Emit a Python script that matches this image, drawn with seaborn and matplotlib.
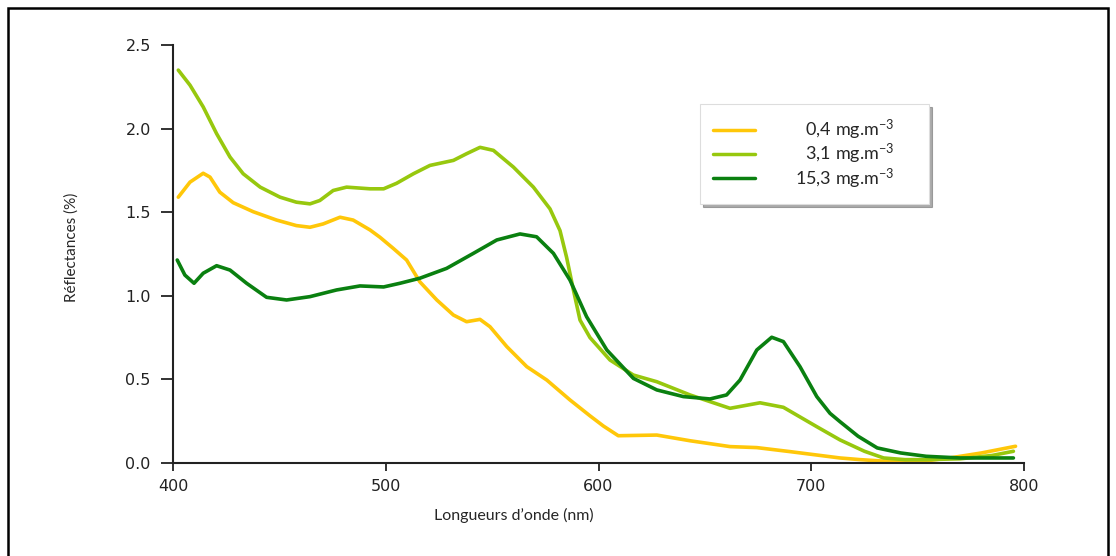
import matplotlib
matplotlib.use('Agg')
import matplotlib.pyplot as plt
import seaborn as sns
import pandas as pd
from matplotlib.patches import Rectangle

# wavelengths (nm) and reflectances (%)
wl_low = [402.5, 408, 414.2, 417.4, 422, 428.3, 437.7, 448.7, 458, 464.4, 470.6, 478.5, 484.7,
          492.6, 497.3, 503.5, 509.8, 516, 524, 531.8, 538, 544.3, 549, 556.9, 566.3, 575.7,
          586.6, 596, 602.3, 609.3, 627.4, 643, 661.8, 674.4, 690, 713.5, 723, 738, 752, 765,
          780, 796]
refl_low = [1.59, 1.68, 1.733, 1.71, 1.62, 1.557, 1.503, 1.453, 1.42, 1.41, 1.43, 1.47, 1.453,
            1.394, 1.35, 1.284, 1.214, 1.084, 0.975, 0.885, 0.845, 0.859, 0.815, 0.696, 0.576,
            0.496, 0.377, 0.282, 0.221, 0.163, 0.167, 0.133, 0.098, 0.092, 0.068, 0.03, 0.02,
            0.008, 0.01, 0.03, 0.06, 0.10]

wl_mid = [402.5, 408, 414.2, 420.5, 426.8, 433, 441, 450.3, 458, 464.4, 469, 475.3, 481.6,
          492.6, 499, 505.1, 513, 520.8, 531.8, 538, 544.3, 550.6, 560, 569.4, 577.2, 581.9, 585,
          588.2, 591.3, 596, 605.4, 616.4, 627.4, 643, 661.8, 675.9, 686.9, 702.6, 713.5, 725,
          734, 744, 754, 770, 785, 795]
refl_mid = [2.35, 2.26, 2.13, 1.97, 1.83, 1.73, 1.65, 1.59, 1.56, 1.55, 1.57, 1.63, 1.65, 1.64,
            1.64, 1.673, 1.73, 1.78, 1.81, 1.85, 1.888, 1.87, 1.77, 1.65, 1.52, 1.39, 1.23,
            1.035, 0.855, 0.75, 0.616, 0.526, 0.486, 0.407, 0.327, 0.36, 0.333, 0.217, 0.138,
            0.07, 0.03, 0.02, 0.02, 0.025, 0.045, 0.07]

wl_high = [402, 405.6, 409.9, 414.2, 420.5, 426.8, 434.6, 444, 453.4, 464.4, 476.9, 487.9,
           499, 506.7, 516, 528.6, 541.2, 552.2, 563.1, 570.9, 578.8, 586.6, 594.4, 603.9, 616.4,
           627.4, 639.9, 652.4, 660.2, 666.5, 674.4, 681.4, 686.9, 694.7, 702.6, 708.8, 713.5,
           722, 731, 742, 754, 770, 795]
refl_high = [1.214, 1.124, 1.075, 1.135, 1.18, 1.154, 1.075, 0.991, 0.975, 0.995, 1.035, 1.059,
             1.053, 1.075, 1.105, 1.164, 1.254, 1.334, 1.37, 1.353, 1.254, 1.094, 0.875, 0.676,
             0.506, 0.437, 0.397, 0.383, 0.407, 0.496, 0.676, 0.752, 0.726, 0.576, 0.397, 0.297,
             0.247, 0.16, 0.09, 0.06, 0.04, 0.03, 0.03]

labels = [r'0,4 mg.m$^{-3}$', r'3,1 mg.m$^{-3}$', r'15,3 mg.m$^{-3}$']
colors = ['#FFC709', '#97C80E', '#0A8010']

df = pd.concat([
    pd.DataFrame({'wl': wl_low, 'refl': refl_low, 'conc': labels[0]}),
    pd.DataFrame({'wl': wl_mid, 'refl': refl_mid, 'conc': labels[1]}),
    pd.DataFrame({'wl': wl_high, 'refl': refl_high, 'conc': labels[2]}),
])

sns.set_style('white')
plt.rcParams['font.family'] = ['DejaVu Sans']
plt.rcParams['mathtext.fontset'] = 'custom'
plt.rcParams['mathtext.rm'] = 'Lato'
plt.rcParams['mathtext.it'] = 'Lato:italic'
plt.rcParams['mathtext.bf'] = 'Lato:bold'

fig = plt.figure(figsize=(11.16, 5.56), dpi=100)
ax = fig.add_axes([0.155, 0.1673, 0.7626, 0.7517])

sns.lineplot(data=df, x='wl', y='refl', hue='conc', palette=colors, sort=False,
             linewidth=2.6, ax=ax, legend=False, solid_joinstyle='round')

ax.set_xlim(400, 800)
ax.set_ylim(0, 2.5)
ax.set_xticks([400, 500, 600, 700, 800])
ax.set_yticks([0.0, 0.5, 1.0, 1.5, 2.0, 2.5])
ax.set_yticklabels(['0.0', '0.5', '1.0', '1.5', '2.0', '2.5'])
ax.tick_params(axis='both', direction='out', width=1.3, labelsize=11.5,
               colors='#222222', left=True, bottom=True)
ax.tick_params(axis='y', length=9, pad=7)
ax.tick_params(axis='x', length=5.5, pad=6)
sns.despine(ax=ax)
for s in ['left', 'bottom']:
    ax.spines[s].set_color('#222222')
    ax.spines[s].set_linewidth(1.5)

ax.set_xlabel("Longueurs d’onde (nm)", fontsize=11.5, family=['Lato', 'DejaVu Sans'])
ax.xaxis.set_label_coords(0.4007, -0.107)
ax.set_ylabel('Réflectances (%)', fontsize=11, family=['Lato', 'DejaVu Sans'])
ax.yaxis.set_label_coords(-0.111, 0.515)

# legend: figure spaces pad the shorter labels so the texts line up on the right
fs = '\u2007'
shown = [fs + labels[0] + fs * 3, fs + labels[1] + fs * 3, labels[2] + fs * 3]
handles = [plt.Line2D([], [], color=c, lw=2.5) for c in colors]
leg = ax.legend(handles, shown, loc='upper left', bbox_to_anchor=(0.619, 0.858),
                frameon=True, fancybox=False, shadow={'color': '0.45', 'alpha': 0.6},
                handlelength=2.3, handletextpad=2.2, labelspacing=0.0,
                borderpad=0.75, borderaxespad=0,
                prop={'family': ['Lato', 'DejaVu Sans'], 'size': 13})
leg.get_frame().set_edgecolor('#dddddd')
leg.get_frame().set_linewidth(0.8)

# outer frame around the picture
fig.patches.append(Rectangle((8 / 1116, -0.05), 1100 / 1116, 1.05 - 8 / 556,
                             transform=fig.transFigure, fill=False, edgecolor='black', lw=1.8))

fig.savefig('out.png', dpi=100)
